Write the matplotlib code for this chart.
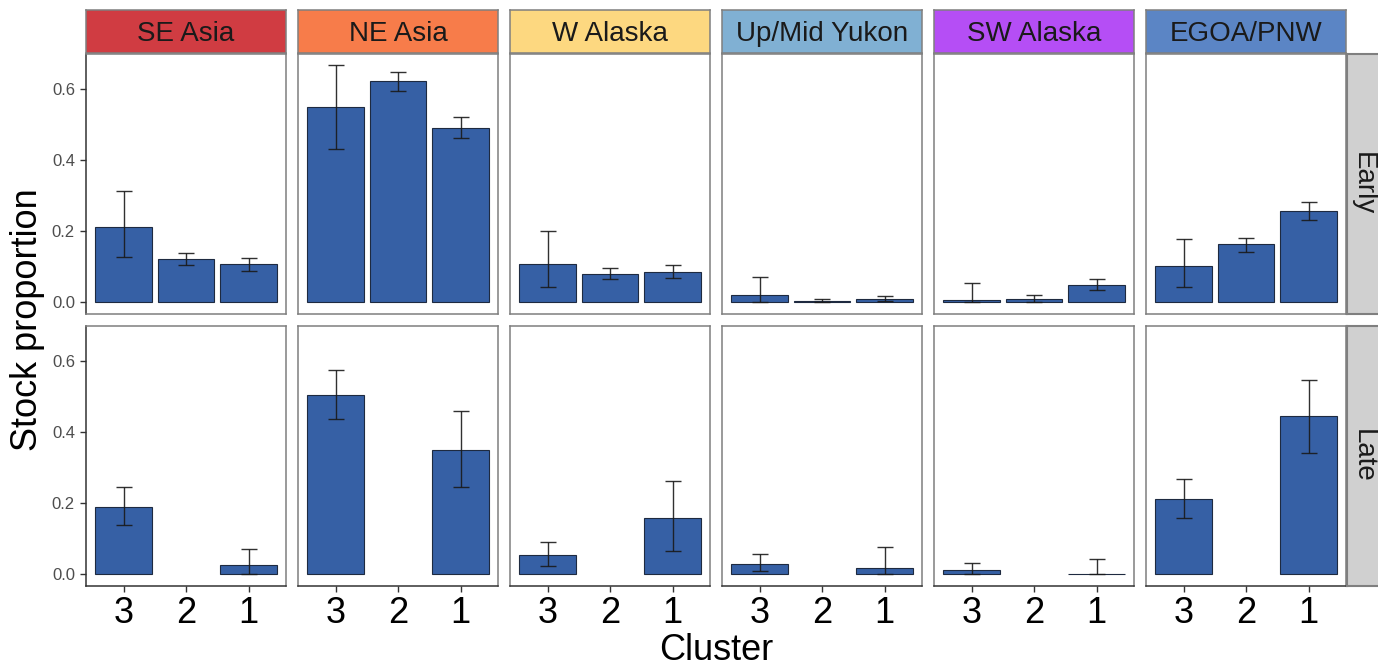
import numpy as np
import matplotlib
matplotlib.use("Agg")
import matplotlib.pyplot as plt

plt.rcParams['font.family'] = ['Liberation Sans', 'DejaVu Sans']

regions = ["SE Asia", "NE Asia", "W Alaska", "Up/Mid Yukon", "SW Alaska", "EGOA/PNW"]
region_colors = ["#D03C42", "#F77C4A", "#FDD880", "#80B0D3", "#B54EF5", "#5B85C5"]
clusters = ["3", "2", "1"]
seasons = ["Early", "Late"]

# Early season: mean, lower, upper per region (clusters 3, 2, 1)
early_mean = [[0.213, 0.121, 0.107],
              [0.550, 0.623, 0.492],
              [0.107, 0.081, 0.085],
              [0.021, 0.004, 0.010],
              [0.006, 0.009, 0.049],
              [0.101, 0.163, 0.258]]
early_lo = [[0.127, 0.104, 0.089],
            [0.431, 0.597, 0.463],
            [0.042, 0.067, 0.069],
            [0.001, 0.000, 0.003],
            [0.000, 0.001, 0.034],
            [0.044, 0.143, 0.231]]
early_hi = [[0.313, 0.139, 0.126],
            [0.669, 0.650, 0.523],
            [0.200, 0.098, 0.105],
            [0.071, 0.009, 0.019],
            [0.055, 0.020, 0.065],
            [0.178, 0.182, 0.284]]

# Late season (cluster 2 absent)
late_mean = [[0.190, np.nan, 0.025],
             [0.505, np.nan, 0.350],
             [0.053, np.nan, 0.159],
             [0.029, np.nan, 0.018],
             [0.012, np.nan, 0.002],
             [0.211, np.nan, 0.446]]
late_lo = [[0.139, np.nan, 0.000],
           [0.437, np.nan, 0.246],
           [0.024, np.nan, 0.067],
           [0.008, np.nan, 0.000],
           [0.000, np.nan, 0.000],
           [0.159, np.nan, 0.343]]
late_hi = [[0.245, np.nan, 0.071],
           [0.575, np.nan, 0.459],
           [0.092, np.nan, 0.263],
           [0.058, np.nan, 0.077],
           [0.033, np.nan, 0.043],
           [0.268, np.nan, 0.549]]

W, H = 1378, 665
fig = plt.figure(figsize=(W / 100, H / 100), dpi=100)

def px_axes(x0, y0, w, h):
    return fig.add_axes([x0 / W, 1 - (y0 + h) / H, w / W, h / H])

lefts = [86, 298, 510, 722, 934, 1146]
pw = 200
row_tops = [54, 326]
ph = 260
bar_color = "#3660A5"
border = "#7F7F7F"
ylim = (-0.033, 0.70)

data = [(early_mean, early_lo, early_hi), (late_mean, late_lo, late_hi)]
xpos = np.arange(len(clusters))

for r in range(2):
    means, los, his = data[r]
    for c in range(6):
        ax = px_axes(lefts[c], row_tops[r], pw, ph)
        m = np.array(means[c], dtype=float)
        lo = np.array(los[c], dtype=float)
        hi = np.array(his[c], dtype=float)
        ok = ~np.isnan(m)
        ax.bar(xpos[ok], m[ok], width=0.9, color=bar_color, edgecolor="#1E2A40",
               linewidth=0.8, zorder=2)
        ax.errorbar(xpos[ok], m[ok], yerr=[m[ok] - lo[ok], hi[ok] - m[ok]], fmt='none',
                    ecolor="#1A1A1A", elinewidth=1.0, capsize=6, capthick=1.0, zorder=3,
                    alpha=0.9)
        ax.set_xlim(-0.6, 2.6)
        ax.set_ylim(*ylim)
        for s in ax.spines.values():
            s.set_color(border)
            s.set_linewidth(1.1)
        ax.set_yticks([0.0, 0.2, 0.4, 0.6])
        ax.set_yticklabels(["0.0", "0.2", "0.4", "0.6"])
        ax.set_xticks(xpos)
        ax.set_xticklabels(clusters)
        ax.tick_params(axis='y', length=4, width=1, color="#333333", labelsize=12,
                       labelcolor="#4D4D4D", pad=4, left=(c == 0), labelleft=(c == 0))
        ax.tick_params(axis='x', length=4, width=1, color="#333333", labelsize=26,
                       labelcolor="#000000", pad=3, bottom=(r == 1), labelbottom=(r == 1))
        if r == 1:
            ax.spines['bottom'].set_color("#333333")
        if c == 0:
            ax.spines['left'].set_color("#333333")
        # column strip
        if r == 0:
            sax = px_axes(lefts[c], 10, pw, 43)
            sax.set_xticks([]); sax.set_yticks([])
            sax.set_facecolor(region_colors[c])
            for s in sax.spines.values():
                s.set_color(border)
                s.set_linewidth(1.1)
            sax.text(0.5, 0.45, regions[c], ha='center', va='center', fontsize=20,
                     color="#1A1A1A", transform=sax.transAxes)
    # row strip
    rax = px_axes(1347, row_tops[r], 40, ph)
    rax.set_xticks([]); rax.set_yticks([])
    rax.set_facecolor("#D0D0D0")
    for s in rax.spines.values():
        s.set_color(border)
        s.set_linewidth(1.5)
    rax.text(16 / 40, 0.5, seasons[r], ha='center', va='center', rotation=-90,
             fontsize=20, color="#1A1A1A", transform=rax.transAxes)

fig.text(28 / W, 1 - 320 / H, "Stock proportion", rotation=90, ha='center', va='center',
         fontsize=26, color="#000000")
fig.text(716 / W, 1 - 650 / H, "Cluster", ha='center', va='center', fontsize=26,
         color="#000000")

fig.savefig("out.png", dpi=100)
